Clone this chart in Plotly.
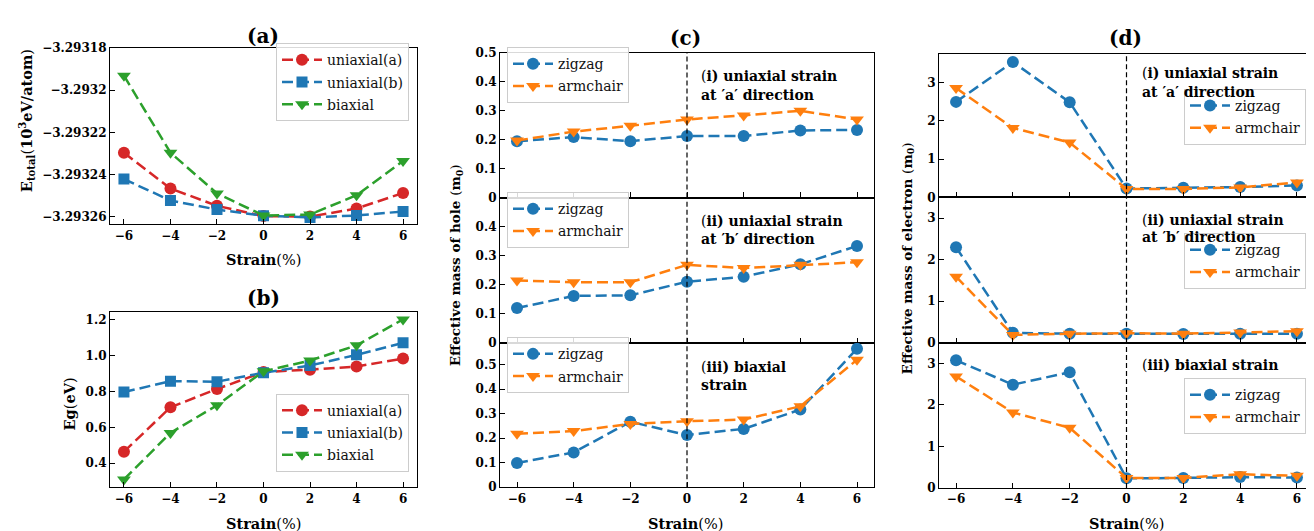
import plotly.graph_objects as go

strain = [-6, -4, -2, 0, 2, 4, 6]
strain_ticks = [-6, -4, -2, 0, 2, 4, 6]

# (a) total energy (10^3 eV/atom)
etot_uni_a = [-3.2932297, -3.2932467, -3.2932549, -3.2932598, -3.2932600, -3.2932562, -3.2932488]
etot_uni_b = [-3.2932422, -3.2932524, -3.2932567, -3.2932596, -3.2932604, -3.2932595, -3.2932576]
etot_biax = [-3.2931931, -3.2932297, -3.2932490, -3.2932595, -3.2932590, -3.2932499, -3.2932336]
etot_ticks = [-3.29318, -3.29320, -3.29322, -3.29324, -3.29326]
etot_ticktext = ["−3.29318", "−3.2932", "−3.29322", "−3.29324", "−3.29326"]

# (b) band gap (eV)
eg_uni_a = [0.464, 0.712, 0.814, 0.909, 0.922, 0.940, 0.984]
eg_uni_b = [0.797, 0.858, 0.855, 0.905, 0.945, 1.005, 1.072]
eg_biax = [0.309, 0.569, 0.723, 0.913, 0.973, 1.058, 1.203]
eg_ticks = [0.4, 0.6, 0.8, 1.0, 1.2]
eg_ticktext = ["0.4", "0.6", "0.8", "1.0", "1.2"]

# (c) hole effective mass (m0)
hole_i_zz = [0.195, 0.209, 0.195, 0.213, 0.213, 0.232, 0.234]
hole_i_ac = [0.197, 0.228, 0.248, 0.270, 0.284, 0.300, 0.270]
hole_ii_zz = [0.119, 0.161, 0.163, 0.210, 0.227, 0.270, 0.333]
hole_ii_ac = [0.214, 0.208, 0.208, 0.268, 0.257, 0.268, 0.277]
hole_iii_zz = [0.099, 0.142, 0.267, 0.213, 0.238, 0.317, 0.565]
hole_iii_ac = [0.218, 0.229, 0.258, 0.269, 0.276, 0.330, 0.520]
hole_ticks_i = [0.0, 0.1, 0.2, 0.3, 0.4, 0.5]
hole_ticks_ii = [0.0, 0.1, 0.2, 0.3, 0.4]
hole_ticks_iii = [0.0, 0.1, 0.2, 0.3, 0.4, 0.5]

# (d) electron effective mass (m0)
el_i_zz = [2.49, 3.53, 2.48, 0.23, 0.25, 0.27, 0.31]
el_i_ac = [2.85, 1.81, 1.43, 0.22, 0.22, 0.26, 0.39]
el_ii_zz = [2.30, 0.24, 0.22, 0.22, 0.21, 0.22, 0.22]
el_ii_ac = [1.59, 0.19, 0.22, 0.23, 0.22, 0.25, 0.28]
el_iii_zz = [3.08, 2.49, 2.79, 0.23, 0.24, 0.26, 0.25]
el_iii_ac = [2.69, 1.82, 1.45, 0.24, 0.24, 0.33, 0.29]
el_ticks = [0, 1, 2, 3]

RED, BLUE, GREEN, ORANGE = "#d62728", "#1f77b4", "#2ca02c", "#ff7f0e"
FONT = "DejaVu Serif"
W, H = 1314, 531
LEG_SHIFT = 14


def fx(x):
    return x / W


def fy(y):
    return 1 - y / H


fig = go.Figure()
layout = dict(width=W, height=H, margin=dict(l=0, r=0, t=0, b=0),
              plot_bgcolor="white", paper_bgcolor="white", showlegend=True,
              annotations=[], shapes=[])

tickfont = dict(family=FONT, size=12, color="black", weight="bold")


def add_axes(i, xpx, ypx, yrange, ytickvals, yticktext=None, xlabels=True):
    sfx = "" if i == 1 else str(i)
    layout["xaxis" + sfx] = dict(
        domain=[fx(xpx[0]), fx(xpx[1])], range=[-6.6, 6.6], anchor="y" + sfx,
        tickvals=strain_ticks, showticklabels=xlabels, ticks="inside", ticklen=5,
        tickwidth=1, tickcolor="black", showline=True, linecolor="black", linewidth=1.2,
        mirror=True, showgrid=False, zeroline=False, tickfont=tickfont)
    ya = dict(
        domain=[fy(ypx[1]), fy(ypx[0])], range=yrange, anchor="x" + sfx,
        tickvals=ytickvals, ticks="inside", ticklen=5, tickwidth=1, tickcolor="black",
        showline=True, linecolor="black", linewidth=1.2, mirror=True, showgrid=False,
        zeroline=False, tickfont=tickfont)
    if yticktext is not None:
        ya["ticktext"] = yticktext
    layout["yaxis" + sfx] = ya


def add_trace(i, y, name, color, symbol, size):
    sfx = "" if i == 1 else str(i)
    fig.add_trace(go.Scatter(
        x=strain, y=y, name=name, mode="lines+markers",
        line=dict(color=color, width=2.5, dash="11px,5px"),
        marker=dict(symbol=symbol, size=size, color=color),
        legendgroup="g%d_%s" % (i, name),
        xaxis="x" + sfx, yaxis="y" + sfx, legend="legend" + sfx))


def add_legend(i, x, y, xanchor, yanchor):
    sfx = "" if i == 1 else str(i)
    layout["legend" + sfx] = dict(
        x=fx(x), y=fy(y - LEG_SHIFT), xanchor=xanchor, yanchor=yanchor,
        bgcolor="rgba(255,255,255,0.85)", bordercolor="#cccccc", borderwidth=1,
        font=dict(family=FONT, size=14, color="#111111"),
        itemwidth=40, tracegroupgap=1)


def ann(text, x, y, size=13, angle=0, xanchor="center", yanchor="middle"):
    layout["annotations"].append(dict(
        text=text, x=fx(x), y=fy(y), xref="paper", yref="paper", showarrow=False,
        xanchor=xanchor, yanchor=yanchor, textangle=angle,
        font=dict(family=FONT, size=size, color="black")))


# ---- (a)
add_axes(1, (102, 409), (34, 215), [-3.2932637, -3.29318], etot_ticks, etot_ticktext)
add_trace(1, etot_uni_a, "uniaxial(a)", RED, "circle", 12)
add_trace(1, etot_uni_b, "uniaxial(b)", BLUE, "square", 11)
add_trace(1, etot_biax, "biaxial", GREEN, "triangle-down", 12)
add_legend(1, 401, 43, "right", "top")

# ---- (b)
add_axes(2, (102, 409), (305, 485), [0.2655, 1.2445], eg_ticks, eg_ticktext)
add_trace(2, eg_uni_a, "uniaxial(a)", RED, "circle", 12)
add_trace(2, eg_uni_b, "uniaxial(b)", BLUE, "square", 11)
add_trace(2, eg_biax, "biaxial", GREEN, "triangle-down", 12)
add_legend(2, 401, 403, "right", "top")

# ---- (c)
crow = [(39, 187.5), (187.5, 336.5), (336.5, 485)]
add_axes(3, (492, 866), crow[0], [0, 0.5], hole_ticks_i, xlabels=False)
add_axes(4, (492, 866), crow[1], [0, 0.5], hole_ticks_ii, xlabels=False)
add_axes(5, (492, 866), crow[2], [0, 0.59], hole_ticks_iii)
for i, zz, ac, top in [(3, hole_i_zz, hole_i_ac, 47), (4, hole_ii_zz, hole_ii_ac, 196),
                       (5, hole_iii_zz, hole_iii_ac, 345)]:
    add_trace(i, zz, "zigzag", BLUE, "circle", 12)
    add_trace(i, ac, "armchair", ORANGE, "triangle-down", 12)
    add_legend(i, 499, top, "left", "top")

# ---- (d)
drow = [(40, 187.3), (187.3, 336.7), (336.7, 485.7)]
add_axes(6, (931, 1306), drow[0], [0, 3.74], el_ticks, xlabels=False)
add_axes(7, (931, 1306), drow[1], [0, 3.5], el_ticks, xlabels=False)
add_axes(8, (931, 1306), drow[2], [0, 3.5], el_ticks)
for i, zz, ac, top in [(6, el_i_zz, el_i_ac, 90), (7, el_ii_zz, el_ii_ac, 238),
                       (8, el_iii_zz, el_iii_ac, 387)]:
    add_trace(i, zz, "zigzag", BLUE, "circle", 12)
    add_trace(i, ac, "armchair", ORANGE, "triangle-down", 12)
    add_legend(i, 1298, top, "right", "top")

# vertical dashed lines at zero strain
for i in range(3, 9):
    layout["shapes"].append(dict(
        type="line", xref="x%d" % i, yref="y%d domain" % i, x0=0, x1=0, y0=0, y1=1,
        line=dict(color="black", width=1.2, dash="5px,3px")))

# panel titles
ann("<b>(a)</b>", 255, 22, size=20)
ann("<b>(b)</b>", 255, 291, size=20)
ann("<b>(c)</b>", 677, 24, size=20)
ann("<b>(d)</b>", 1117, 24, size=20)

# axis titles
ann("<b>Strain</b>(%)", 255, 251, size=14.5)
ann("<b>Strain</b>(%)", 255, 522, size=14.5)
ann("<b>Strain</b>(%)", 677, 522, size=14.5)
ann("<b>Strain</b>(%)", 1118, 522, size=14.5)
ann("<b>E<sub>total</sub></b>(<b>10<sup>3</sup>eV/atom</b>)", 18, 109, size=14.5, angle=-90)
ann("<b>Eg</b>(<b>eV</b>)", 61, 400, size=14.5, angle=-90)
ann("<b>Effective mass of hole </b>(<b>m<sub>0</sub></b>)", 448, 257, size=13.5, angle=-90)
ann("<b>Effective mass of electron </b>(<b>m<sub>0</sub></b>)", 900, 250, size=13.5, angle=-90)

# in-panel texts
ann("(<b>i) uniaxial strain</b>", 691, 63, size=14, xanchor="left")
ann("<b>at ′a′ direction</b>", 691, 82, size=14, xanchor="left")
ann("(<b>ii) uniaxial strain</b>", 691, 212, size=14, xanchor="left")
ann("<b>at ′b′ direction</b>", 691, 230, size=14, xanchor="left")
ann("(<b>iii) biaxial</b>", 691, 362, size=14, xanchor="left")
ann("<b>strain</b>", 691, 380, size=14, xanchor="left")
ann("(<b>i) uniaxial strain</b>", 1132, 60, size=14, xanchor="left")
ann("<b>at ′a′ direction</b>", 1132, 79, size=14, xanchor="left")
ann("(<b>ii) uniaxial strain</b>", 1132, 211, size=14, xanchor="left")
ann("<b>at ′b′ direction</b>", 1132, 228, size=14, xanchor="left")
ann("(<b>iii) biaxial strain</b>", 1132, 359, size=14, xanchor="left")

fig.update_layout(**layout)
fig.write_html("out.html")
